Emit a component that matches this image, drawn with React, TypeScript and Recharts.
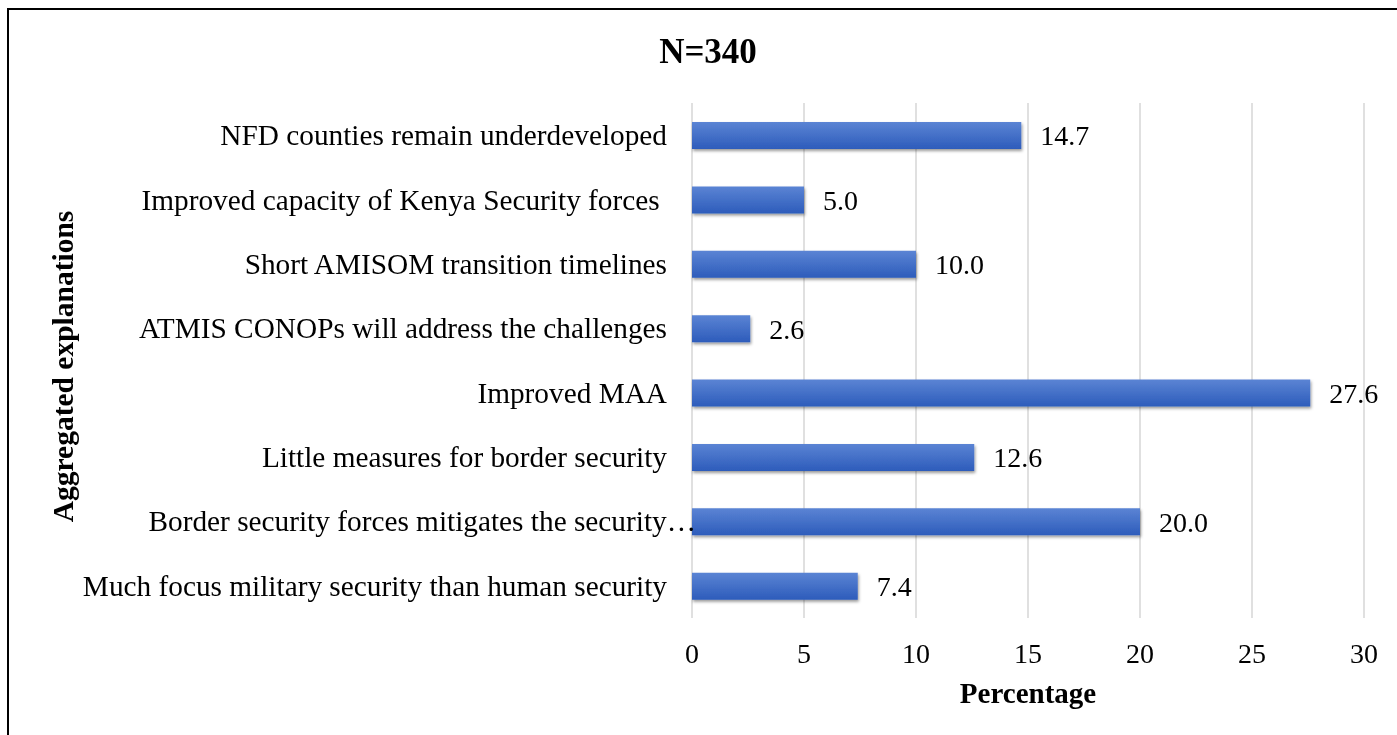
import { Bar, BarChart, CartesianGrid, LabelList, XAxis, YAxis } from "recharts";

const categories = [
  "NFD counties remain underdeveloped",
  "Improved capacity of Kenya Security forces ",
  "Short AMISOM transition timelines",
  "ATMIS CONOPs will address the challenges",
  "Improved MAA",
  "Little measures for border security",
  "Border security forces mitigates the security…",
  "Much focus military security than human security",
];
const percentages = [14.7, 5.0, 10.0, 2.6, 27.6, 12.6, 20.0, 7.4];
const xTicks = [0, 5, 10, 15, 20, 25, 30];

const data = categories.map((name, i) => ({ name, value: percentages[i] }));

const FONT = '"Liberation Serif", "Times New Roman", serif';

const CategoryTick = ({ x, y, payload }: any) => {
  const label = String(payload.value);
  // truncated label spills its ellipsis past the axis, as in the source
  const shift = label.endsWith("…") ? 29 : 0;
  return (
    <text
      x={x + shift}
      y={y}
      dy={10}
      textAnchor="end"
      fill="#000"
      fontSize={29.3}
      fontFamily={FONT}
      style={{ whiteSpace: "pre" }}
    >
      {label}
    </text>
  );
};

const YTitle = ({ viewBox }: any) => {
  const cx = viewBox.x + 65;
  const cy = viewBox.y + viewBox.height / 2 + 6;
  return (
    <text
      x={cx}
      y={cy}
      transform={`rotate(-90, ${cx}, ${cy})`}
      textAnchor="middle"
      fill="#000"
      fontSize={29.5}
      fontWeight={700}
      fontFamily={FONT}
    >
      Aggregated explanations
    </text>
  );
};

export default function App() {
  return (
    <div style={{ position: "relative", width: 1385, height: 719, overflow: "hidden" }}>
      {/* frame runs off the right and bottom edges, as in the source screenshot */}
      <div
        style={{
          position: "fixed",
          left: 7,
          top: 8,
          width: 1500,
          height: 900,
          border: "2px solid #000",
          pointerEvents: "none",
        }}
      />
      <div
        style={{
          position: "absolute",
          left: 0,
          top: 26,
          width: 1400,
          textAlign: "center",
          fontFamily: FONT,
          fontWeight: 700,
          fontSize: 35,
          lineHeight: 1,
          color: "#000",
        }}
      >
        N=340
      </div>
      <div style={{ position: "absolute", left: 0, top: 0 }}>
        <BarChart
          width={1389}
          height={727}
          data={data}
          layout="vertical"
          barSize={27}
          margin={{ top: 95, right: 33, left: 0, bottom: 0 }}
        >
          <defs>
            <linearGradient id="barFill" x1="0" y1="0" x2="0" y2="1">
              <stop offset="0%" stopColor="#5b84d4" />
              <stop offset="100%" stopColor="#2d5cbb" />
            </linearGradient>
            <filter id="barShadow" x="-5%" y="-20%" width="110%" height="160%">
              <feDropShadow dx="1" dy="2" stdDeviation="1.5" floodColor="#000" floodOpacity="0.4" />
            </filter>
          </defs>
          <CartesianGrid horizontal={false} stroke="#d6d6d6" strokeWidth={1.5} />
          <XAxis
            type="number"
            domain={[0, 30]}
            ticks={xTicks}
            height={117}
            axisLine={false}
            tickLine={false}
            tickSize={0}
            tickMargin={25}
            tick={{ fill: "#000", fontSize: 28, fontFamily: FONT }}
            label={{
              value: "Percentage",
              position: "insideBottom",
              offset: 32,
              fill: "#000",
              fontSize: 29,
              fontWeight: 700,
              fontFamily: FONT,
            }}
          />
          <YAxis
            type="category"
            dataKey="name"
            width={684}
            axisLine={false}
            tickLine={false}
            tickSize={0}
            tickMargin={25}
            interval={0}
            tick={<CategoryTick />}
            label={{ content: YTitle }}
          />
          <Bar dataKey="value" fill="url(#barFill)" filter="url(#barShadow)" isAnimationActive={false}>
            <LabelList
              dataKey="value"
              position="right"
              offset={19}
              formatter={(v: any) => Number(v).toFixed(1)}
              fill="#000"
              fontSize={28}
              fontFamily={FONT}
            />
          </Bar>
        </BarChart>
      </div>
    </div>
  );
}
